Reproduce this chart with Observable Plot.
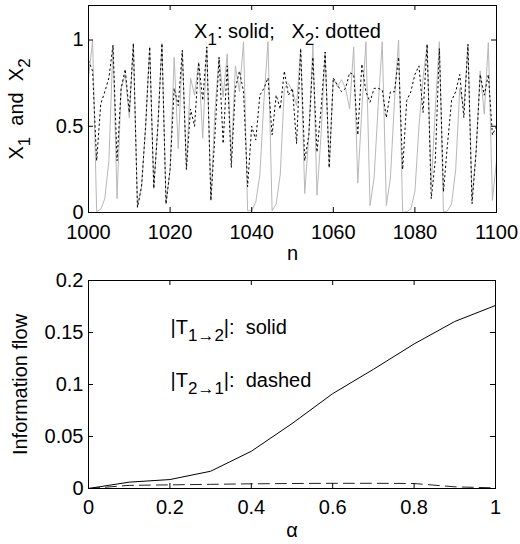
<!DOCTYPE html>
<html><head><meta charset="utf-8">
<script src="https://cdn.jsdelivr.net/npm/d3@7"></script>
<script src="https://cdn.jsdelivr.net/npm/@observablehq/plot@0.6"></script>
<style>
body{margin:0;background:#fff;}
#chart{width:520px;}
svg{display:block;}
</style></head><body><div id="chart"></div>
<script>
// ---- Top panel data: n = 1000..1100 ----
const nStart = 1000;
const x1Values = [
  0.78, 1.0, 0.005, 0.02, 0.08, 0.3, 0.97, 0.08, 0.72, 0.8,
  0.55, 0.98, 0.03, 0.15, 0.5, 0.96, 0.14, 0.5, 0.98, 0.05,
  0.25, 0.9, 0.37, 0.94, 0.25, 0.78, 0.68, 0.87, 0.43, 0.96,
  0.07, 0.59, 0.9, 0.67, 0.92, 0.3, 0.85, 0.7, 0.99, 0.01,
  0.01, 0.06, 0.22, 0.65, 0.99, 0.01, 0.05, 0.22, 0.72, 0.75,
  0.7, 0.62, 0.95, 0.11, 0.45, 0.975, 0.1, 0.45, 0.93, 0.26,
  0.78, 0.73, 0.77, 0.72, 0.6, 0.96, 0.17, 0.6, 0.99, 0.04,
  0.2, 0.62, 0.99, 0.04, 0.2, 0.65, 1.0, 0.0, 0.005, 0.02,
  0.12, 0.5, 0.78, 0.975, 0.15, 0.6, 0.99, 0.0, 0.01, 0.05,
  0.25, 0.72, 0.6, 0.975, 0.08, 0.35, 0.82, 0.57, 0.985, 0.07,
  0.3
];
const x2Values = [
  0.88, 0.82, 0.3, 0.63, 0.7, 0.78, 0.97, 0.3, 0.72, 0.83,
  0.58, 0.98, 0.03, 0.15, 0.5, 0.96, 0.14, 0.5, 0.98, 0.05,
  0.25, 0.72, 0.62, 0.94, 0.25, 0.6, 0.5, 0.87, 0.65, 0.96,
  0.07, 0.45, 0.9, 0.4, 0.85, 0.26, 0.72, 0.82, 0.7, 0.15,
  0.5, 0.42, 0.68, 0.72, 0.78, 0.45, 0.68, 0.6, 0.82, 0.68,
  0.72, 0.4, 0.95, 0.3, 0.45, 0.9, 0.35, 0.6, 0.93, 0.26,
  0.78, 0.74, 0.7, 0.72, 0.81, 0.8, 0.45, 0.86, 0.7, 0.64,
  0.72, 0.72, 0.71, 0.55, 0.7, 0.7, 0.9, 0.25, 0.65, 0.7,
  0.8, 0.85, 0.58, 0.975, 0.08, 0.3, 0.95, 0.12, 0.4, 0.65,
  0.7, 0.8, 0.55, 0.975, 0.05, 0.35, 0.8, 0.68, 0.8, 0.45,
  0.5
];
const topXTicks = [1000, 1020, 1040, 1060, 1080, 1100];
const topYTicks = [0, 0.5, 1];
const topNote = "X_{1}: solid;   X_{2}: dotted";
const topYLabel = "X_{1}  and  X_{2}";
const topXLabel = "n";

// ---- Bottom panel data ----
const alphaValues = [0, 0.1, 0.2, 0.3, 0.4, 0.5, 0.6, 0.7, 0.8, 0.9, 1.0];
const t12Values = [0, 0.0061, 0.0086, 0.0166, 0.0358, 0.0624, 0.0912, 0.1146, 0.139, 0.1606, 0.176];
const t21Values = [0, 0.003, 0.0035, 0.004, 0.0045, 0.0048, 0.005, 0.005, 0.0048, 0.0016, 0.0006];
const botXTicks = [0, 0.2, 0.4, 0.6, 0.8, 1];
const botYTicks = [0, 0.05, 0.1, 0.15, 0.2];
const botNotes = ["|T_{1\u21922}|:  solid", "|T_{2\u21921}|:  dashed"];
const botYLabel = "Information flow";
const botXLabel = "\u03b1";

const FONT = "'Liberation Sans', Arial, Helvetica, sans-serif";
const FS = 20;
const plainFormat = d => String(d);

const series = x1Values.map((v, i) => ({n: nStart + i, x1: v, x2: x2Values[i]}));
const flows = alphaValues.map((a, i) => ({a, t12: t12Values[i], t21: t21Values[i]}));

function subscripts(svg) {
  d3.select(svg).selectAll("text").each(function () {
    const t = this.textContent;
    if (!t.includes("_{")) return;
    const el = d3.select(this);
    el.text(null).style("white-space", "pre");
    const parts = t.split(/(_\{[^}]*\})/);
    let shifted = false;
    for (const p of parts) {
      if (!p) continue;
      if (p.startsWith("_{")) {
        el.append("tspan").attr("dy", "7").attr("font-size", "17px").text(p.slice(2, -1));
        shifted = true;
      } else {
        el.append("tspan").attr("dy", shifted ? "-7" : null).text(p);
        shifted = false;
      }
    }
  });
}

// ---- Top panel ----
const tW = 520, tH = 270, tMT = 5, tMB = 58, tML = 88, tMR = 24;
const tPW = tW - tML - tMR, tPH = tH - tMT - tMB;
const topPlot = Plot.plot({
  width: tW, height: tH, marginTop: tMT, marginBottom: tMB, marginLeft: tML, marginRight: tMR,
  style: {fontFamily: FONT, fontSize: FS + "px", color: "black", background: "white", overflow: "visible"},
  x: {domain: [1000, 1100]},
  y: {domain: [0, 1.2]},
  marks: [
    Plot.lineY(series, {x: "n", y: "x1", stroke: "#b8b8b8", strokeWidth: 1}),
    Plot.lineY(series, {x: "n", y: "x2", stroke: "#000", strokeWidth: 1, strokeDasharray: "1.5,3.2"}),
    Plot.frame({stroke: "black", strokeWidth: 1}),
    Plot.tickX(topXTicks, {x: d => d, insetTop: tPH - 5, stroke: "black"}),
    Plot.tickX(topXTicks, {x: d => d, insetBottom: tPH - 5, stroke: "black"}),
    Plot.tickY(topYTicks, {y: d => d, insetRight: tPW - 5, stroke: "black"}),
    Plot.tickY(topYTicks, {y: d => d, insetLeft: tPW - 5, stroke: "black"}),
    Plot.axisX(topXTicks, {tickSize: 0, tickPadding: 12, fontSize: FS, tickFormat: plainFormat, label: topXLabel, labelAnchor: "center", labelArrow: "none", labelOffset: 47}),
    Plot.axisY(topYTicks, {tickSize: 0, tickPadding: 5, fontSize: FS, tickFormat: plainFormat, label: topYLabel, labelAnchor: "center", labelArrow: "none", labelOffset: 80}),
    Plot.text([topNote], {text: d => d, frameAnchor: "top", dx: -5, dy: 18, fontSize: FS, fill: "black"})
  ]
});
subscripts(topPlot);

// ---- Bottom panel ----
const bW = 520, bH = 274, bMT = 10, bMB = 56, bML = 88, bMR = 25;
const bPW = bW - bML - bMR, bPH = bH - bMT - bMB;
const botPlot = Plot.plot({
  width: bW, height: bH, marginTop: bMT, marginBottom: bMB, marginLeft: bML, marginRight: bMR,
  style: {fontFamily: FONT, fontSize: FS + "px", color: "black", background: "white", overflow: "visible"},
  x: {domain: [0, 1]},
  y: {domain: [0, 0.2]},
  marks: [
    Plot.line(flows, {x: "a", y: "t21", stroke: "#222", strokeWidth: 1, strokeDasharray: "11,6"}),
    Plot.line(flows, {x: "a", y: "t12", stroke: "black", strokeWidth: 1}),
    Plot.frame({stroke: "black", strokeWidth: 1}),
    Plot.tickX(botXTicks, {x: d => d, insetTop: bPH - 5, stroke: "black"}),
    Plot.tickX(botXTicks, {x: d => d, insetBottom: bPH - 5, stroke: "black"}),
    Plot.tickY(botYTicks, {y: d => d, insetRight: bPW - 5, stroke: "black"}),
    Plot.tickY(botYTicks, {y: d => d, insetLeft: bPW - 5, stroke: "black"}),
    Plot.axisX(botXTicks, {tickSize: 0, tickPadding: 11, fontSize: FS, tickFormat: plainFormat, label: botXLabel, labelAnchor: "center", labelArrow: "none", labelOffset: 48}),
    Plot.axisY(botYTicks, {tickSize: 0, tickPadding: 5, fontSize: FS, tickFormat: plainFormat, label: botYLabel, labelAnchor: "center", labelArrow: "none", labelOffset: 76}),
    Plot.text([botNotes[0]], {text: d => d, frameAnchor: "top-left", dx: 82, dy: 39, textAnchor: "start", fontSize: FS, fill: "black"}),
    Plot.text([botNotes[1]], {text: d => d, frameAnchor: "top-left", dx: 82, dy: 92, textAnchor: "start", fontSize: FS, fill: "black"})
  ]
});
subscripts(botPlot);

const chart = document.getElementById("chart");
chart.appendChild(topPlot);
chart.appendChild(botPlot);
</script>
</body></html>
